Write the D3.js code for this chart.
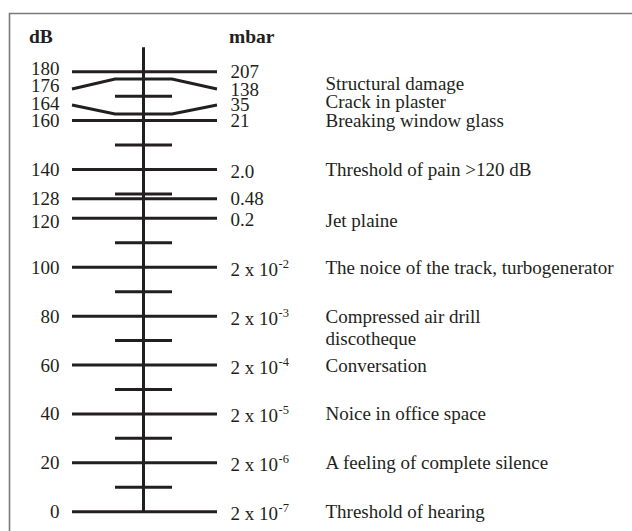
<!DOCTYPE html>
<html>
<head>
<meta charset="utf-8">
<script src="https://cdn.jsdelivr.net/npm/d3@7"></script>
<style>
  html, body { margin: 0; padding: 0; background: #fff; }
  svg { display: block; }
  text { font-family: "Liberation Serif", "Times New Roman", serif; fill: #231f20; }
</style>
</head>
<body>
<div id="chart"></div>
<script>
// ---- Data ----
const dbLevels   = [180, 176, 164, 160, 140, 128, 120, 100, 80, 60, 40, 20, 0];
const mbarBase   = ["207", "138", "35", "21", "2.0", "0.48", "0.2", "2 x 10", "2 x 10", "2 x 10", "2 x 10", "2 x 10", "2 x 10"];
const mbarExp    = [null, null, null, null, null, null, null, "-2", "-3", "-4", "-5", "-6", "-7"];
const minorTicks = [170, 150, 130, 110, 90, 70, 50, 30, 10];
// bent lines: level, drawn level at centre, drawn level at ends
const bentLevels = [176, 164];
const bentCenter = [177, 162.7];
const bentEdge   = [172.9, 166.4];
const descriptions = ["Structural damage", "Crack in plaster", "Breaking window glass",
  "Threshold of pain >120 dB", "Jet plaine", "The noice of the track, turbogenerator",
  "Compressed air drill", "discotheque", "Conversation", "Noice in office space",
  "A feeling of complete silence", "Threshold of hearing"];
const descriptionDb = [175.3, 167.8, 160, 140, 119, 100, 80, 71, 60, 40, 20, 0];
const axisTopDb = 190;

// ---- Layout ----
const W = 632, H = 531;
const svg = d3.select("#chart").append("svg").attr("width", W).attr("height", H);
const y = d3.scaleLinear().domain([0, 180]).range([511.7, 71.7]);
const xAxis = 143.5;
const longL = 72, longR = 217, shortL = 115, shortR = 172;
const fs = 19;
const ink = "#231f20";

// frame
svg.append("path").attr("d", `M9.5,${H} V13.5 H${W}`)
  .attr("fill", "none").attr("stroke", "#7a7a7a").attr("stroke-width", 1.6);

// headers
svg.append("text").attr("x", 29).attr("y", 42.5).attr("font-size", 19.5)
  .attr("font-weight", "bold").text("dB");
svg.append("text").attr("x", 229).attr("y", 42.5).attr("font-size", 19.5)
  .attr("font-weight", "bold").text("mbar");

// vertical axis
svg.append("line").attr("x1", xAxis).attr("x2", xAxis)
  .attr("y1", y(axisTopDb)).attr("y2", y(0))
  .attr("stroke", ink).attr("stroke-width", 3);

// minor ticks
svg.selectAll("line.minor").data(minorTicks).join("line").attr("class", "minor")
  .attr("x1", shortL).attr("x2", shortR)
  .attr("y1", d => y(d)).attr("y2", d => y(d))
  .attr("stroke", ink).attr("stroke-width", 3);

// edge level for each main line
const edgeDb = d => { const i = bentLevels.indexOf(d); return i < 0 ? d : bentEdge[i]; };

// straight main lines
svg.selectAll("line.major").data(dbLevels.filter(d => bentLevels.indexOf(d) < 0))
  .join("line").attr("class", "major")
  .attr("x1", longL).attr("x2", longR)
  .attr("y1", d => y(d)).attr("y2", d => y(d))
  .attr("stroke", ink).attr("stroke-width", 3);

// bent main lines
const lineGen = d3.line().x(p => p[0]).y(p => y(p[1]));
svg.selectAll("path.bent").data(bentLevels.map((d, i) => i)).join("path").attr("class", "bent")
  .attr("d", i => lineGen([[longL, bentEdge[i]], [shortL, bentCenter[i]], [shortR, bentCenter[i]], [longR, bentEdge[i]]]))
  .attr("fill", "none").attr("stroke", ink).attr("stroke-width", 3).attr("stroke-linejoin", "miter");

// left labels (dB)
const leftNudge = {180: -3.5, 176: -4, 164: -1, 120: 3};
svg.selectAll("text.db").data(dbLevels).join("text").attr("class", "db")
  .attr("x", 59.5).attr("text-anchor", "end").attr("font-size", fs)
  .attr("y", d => y(edgeDb(d)) + (leftNudge[d] || 0) + 6.5)
  .text(d => d);

// right labels (mbar)
const rightNudge = {140: 2, 120: 1};
const rl = svg.selectAll("text.mbar").data(dbLevels).join("text").attr("class", "mbar")
  .attr("x", 230.5).attr("font-size", fs)
  .attr("y", (d, i) => y(edgeDb(d)) + (rightNudge[d] || (mbarExp[i] ? 2 : 0)) + 6.5);
rl.append("tspan").text((d, i) => mbarBase[i]);
rl.filter((d, i) => mbarExp[i] !== null).append("tspan")
  .attr("font-size", 12.5).attr("dy", -8).attr("dx", 0.5)
  .text((d) => mbarExp[dbLevels.indexOf(d)]);

// descriptions
svg.selectAll("text.desc").data(descriptions).join("text").attr("class", "desc")
  .attr("x", 325.5).attr("font-size", fs)
  .attr("y", (d, i) => y(descriptionDb[i]) + 6.5)
  .text(d => d);
</script>
</body>
</html>
